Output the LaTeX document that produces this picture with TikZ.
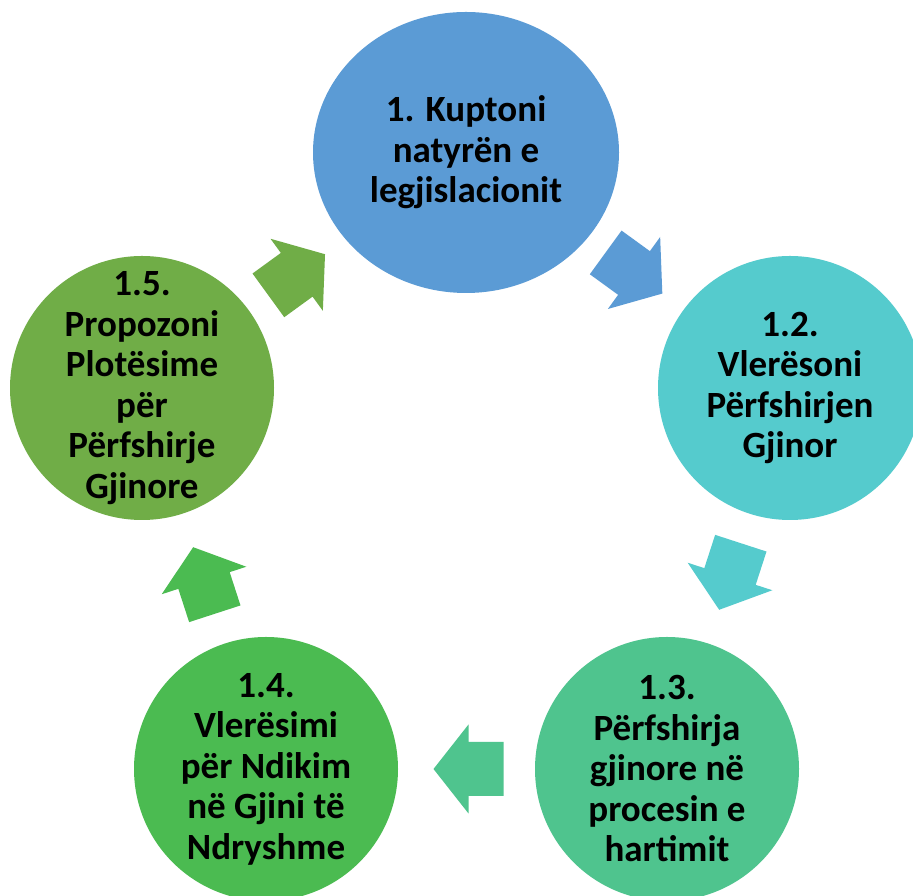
\documentclass[tikz,border=0pt]{standalone}
\usepackage{fontspec}
\setmainfont{Carlito}
\usetikzlibrary{shapes.geometric}
\definecolor{cA}{HTML}{5B9BD5}
\definecolor{cB}{HTML}{55CBCD}
\definecolor{cC}{HTML}{4FC48E}
\definecolor{cD}{HTML}{4BBB51}
\definecolor{cE}{HTML}{70AD47}
\tikzset{
  ball/.style={circle, draw=none, inner sep=0pt, minimum size=264pt},
  lbl/.style={align=center, inner sep=0pt, text=black,
    font=\bfseries\fontsize{37}{40.5}\selectfont},
  cyclearrow/.pic={
    \fill (-35,-27) -- (0,-27) -- (0,-44.5) -- (35,0) -- (0,44.5) -- (0,27) -- (-35,27) -- cycle;
  }
}
\begin{document}
\begin{tikzpicture}[x=1pt,y=1pt]
\clip (0,0) rectangle (913,896);
\fill[white] (0,0) rectangle (913,896);
% circles
\node[ellipse, draw=none, fill=cA, inner sep=0pt, minimum width=306pt, minimum height=281pt] (n1) at (466,743.5) {};
\node[ball, fill=cB] (n2) at (790,508) {};
\node[ball, fill=cC] (n3) at (667,127) {};
\node[ball, fill=cD] (n4) at (266,127) {};
\node[ball, fill=cE] (n5) at (142,508) {};
% labels
\node[lbl] (t1) at (n1) {1. Kuptoni\\natyrën e\\legjislacionit};
\node[lbl] (t2) at (n2) {1.2.\\Vlerësoni\\Përfshirjen\\Gjinor};
\node[lbl] (t3) at (n3) {1.3.\\Përfshirja\\gjinore në\\procesin e\\hartimit};
\node[lbl] (t4) at (n4) {1.4.\\Vlerësimi\\për Ndikim\\në Gjini të\\Ndryshme};
\node[lbl] (t5) at (n5) {1.5.\\Propozoni\\Plotësime\\për\\Përfshirje\\Gjinore};
% arrows
\pic[fill=cA, rotate=-36] at (634,623) {cyclearrow};
\pic[fill=cB, rotate=-108] at (730,319.5) {cyclearrow};
\pic[fill=cC, rotate=180] at (468.5,127) {cyclearrow};
\pic[fill=cD, rotate=108] at (204,315.5) {cyclearrow};
\pic[fill=cE, rotate=36] at (296.7,621.2) {cyclearrow};
\end{tikzpicture}
\end{document}
